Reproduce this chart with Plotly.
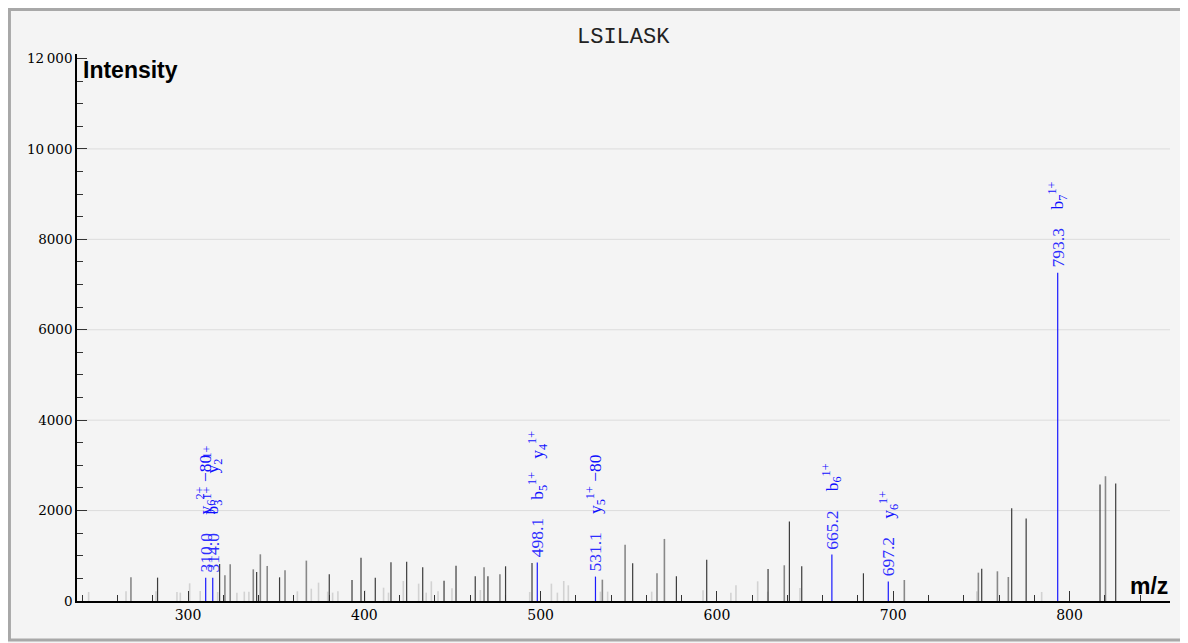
import plotly.graph_objects as go

# ---------------- data ----------------
title_text = "LSILASK"

dark_mz = [282.7, 317.9, 338.9, 351.9, 380.1, 393.0, 398.1, 406.2, 415.1, 424.0, 433.1, 445.2,
           452.0, 462.9, 470.1, 480.1, 495.1, 552.2, 577.0, 594.2, 629.0, 641.1, 648.1, 683.1,
           750.2, 767.2, 775.4, 817.3, 826.2]
dark_int = [517, 819, 642, 524, 590, 465, 959, 517, 856, 871, 745, 450,
            782, 546, 546, 768, 841, 834, 546, 915, 708, 1756, 768, 613,
            716, 2052, 1823, 2576, 2598]

mid_mz = [267.6, 320.9, 323.9, 337.0, 341.0, 344.9, 355.0, 367.1, 467.9, 476.9, 535.0, 547.9,
          566.0, 570.2, 638.2, 706.3, 748.3, 759.1, 765.3, 820.4]
mid_int = [524, 568, 812, 701, 1033, 775, 679, 893, 745, 590, 472, 1247,
           613, 1373, 790, 465, 627, 657, 531, 2760]

light_mz = [243.6, 264.8, 281.8, 293.7, 295.6, 300.9, 306.9, 316.8, 327.7, 331.9, 334.5, 362.0,
            369.9, 374.0, 379.2, 382.0, 385.0, 400.3, 410.9, 413.7, 422.1, 430.8, 435.1, 438.0,
            441.8, 449.7, 465.8, 493.8, 506.1, 509.5, 513.1, 515.7, 533.9, 538.0, 563.0, 592.1,
            607.9, 610.8, 623.1, 628.8, 647.1, 747.4, 784.2]
light_int = [200, 214, 214, 200, 185, 391, 221, 200, 185, 207, 207, 214,
             273, 406, 207, 185, 214, 236, 295, 185, 443, 384, 185, 435,
             214, 280, 244, 200, 384, 185, 443, 347, 207, 207, 207, 236,
             185, 347, 435, 207, 288, 214, 200]

blue_mz = [310.0, 314.0, 498.1, 531.1, 665.2, 697.2, 793.3]
blue_int = [515, 515, 850, 540, 1030, 430, 7260]
blue_ions = [
    ["y<sub>6</sub><sup>2+</sup> \u221280"],
    ["b<sub>3</sub><sup>1+</sup>", "y<sub>2</sub><sup>1+</sup>"],
    ["b<sub>5</sub><sup>1+</sup>", "y<sub>4</sub><sup>1+</sup>"],
    ["y<sub>5</sub><sup>1+</sup> \u221280"],
    ["b<sub>6</sub><sup>1+</sup>"],
    ["y<sub>6</sub><sup>1+</sup>"],
    ["b<sub>7</sub><sup>1+</sup>"],
]

y_tickvals = [0, 2000, 4000, 6000, 8000, 10000, 12000]
y_ticktext = ["0", "2000", "4000", "6000", "8000", "10\u2009000", "12\u2009000"]


def sticks(mz, inten):
    xs, ys = [], []
    for m, i in zip(mz, inten):
        xs += [m, m, None]
        ys += [0, i, None]
    return xs, ys


fig = go.Figure()
for mz, inten, color, width in [
    (light_mz, light_int, "#d2d2d2", 1.6),
    (mid_mz, mid_int, "#888888", 1.6),
    (dark_mz, dark_int, "#3c3c3c", 1.2),
    (blue_mz, blue_int, "#1a1aff", 1.2),
]:
    xs, ys = sticks(mz, inten)
    fig.add_trace(go.Scatter(x=xs, y=ys, mode="lines",
                             line=dict(color=color, width=width),
                             hoverinfo="skip", showlegend=False))

serif = "DejaVu Serif"
ann = []
for m, i, ions in zip(blue_mz, blue_int, blue_ions):
    ann.append(dict(x=m, y=i, xref="x", yref="y", text=f"{m:.1f}", textangle=-90,
                    showarrow=False, xanchor="center", yanchor="bottom", yshift=3,
                    font=dict(family="Liberation Serif", size=17.5, color="#2e2eff")))
    for k, lab in enumerate(ions):
        ann.append(dict(x=m, y=i, xref="x", yref="y", text=lab, textangle=-90,
                        showarrow=False, xanchor="center", yanchor="bottom",
                        yshift=61 + k * 41,
                        font=dict(family="Liberation Serif", size=17.5, color="#1010ff")))

ann.append(dict(x=0.004, y=1.0, xref="paper", yref="paper", text="<b>Intensity</b>",
                showarrow=False, xanchor="left", yanchor="top", yshift=-1,
                font=dict(family="Liberation Sans", size=23, color="black")))
ann.append(dict(x=1.0, y=0.0, xref="paper", yref="paper", text="<b>m/z</b>",
                showarrow=False, xanchor="right", yanchor="bottom", yshift=0,
                font=dict(family="Liberation Sans", size=23, color="black")))
ann.append(dict(x=0.5, y=1.0, xref="paper", yref="paper", text=title_text,
                showarrow=False, xanchor="center", yanchor="bottom", yshift=2,
                font=dict(family="Liberation Mono", size=22, color="#222222")))

# horizontal grid lines (not at the axis ends)
grid_shapes = [dict(type="line", xref="paper", yref="y", x0=0, x1=1, y0=v, y1=v,
                    line=dict(color="#dcdcdc", width=1), layer="below")
               for v in y_tickvals[1:-1]]

# page body offsets the figure by 8px; figure is sized to fill the rest of the window
fig.update_layout(
    width=1180, height=635,
    margin=dict(l=69, r=18, t=46, b=42),
    paper_bgcolor="#f4f4f4", plot_bgcolor="#f4f4f4",
    annotations=ann,
    shapes=[dict(type="rect", xref="paper", yref="paper",
                 x0=-0.0618, x1=1.0137, y0=-0.0713, y1=1.0814,
                 line=dict(color="#a8a8a8", width=3), layer="below")] + grid_shapes,
    xaxis=dict(range=[237, 857], tick0=0, dtick=100, ticks="inside", ticklen=10,
               tickcolor="#333", showline=True, linecolor="black", linewidth=1.5,
               showgrid=False, zeroline=False,
               tickfont=dict(family=serif, size=14, color="black"),
               minor=dict(ticks="inside", dtick=20, tick0=0, ticklen=6, tickcolor="#333",
                          showgrid=False)),
    yaxis=dict(range=[0, 12100], tickmode="array", tickvals=y_tickvals, ticktext=y_ticktext,
               ticks="inside", ticklen=10, tickcolor="#333", showline=True,
               linecolor="black", linewidth=1.5, showgrid=False, zeroline=False,
               tickfont=dict(family=serif, size=13.5, color="black"),
               minor=dict(ticks="inside", dtick=500, tick0=0, ticklen=6, tickcolor="#333",
                          showgrid=False)),
)

fig.write_html("out.html")
